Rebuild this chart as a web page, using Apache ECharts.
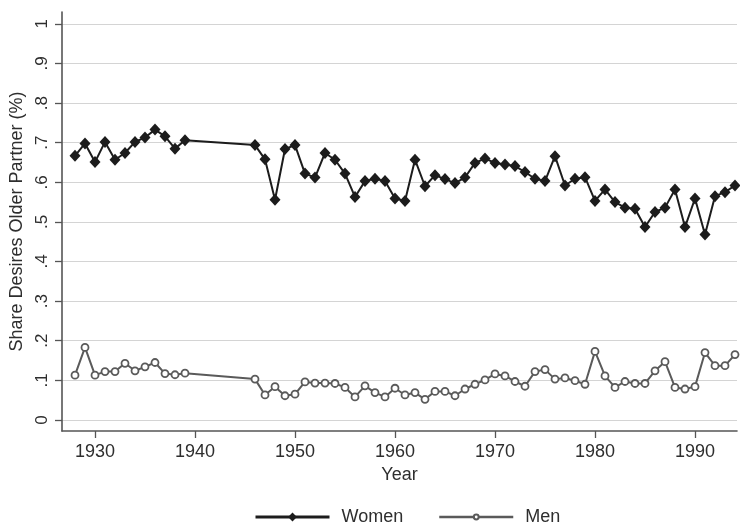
<!DOCTYPE html>
<html><head><meta charset="utf-8">
<script src="https://cdn.jsdelivr.net/npm/echarts@6/dist/echarts.min.js"></script>
<style>html,body{margin:0;padding:0;background:#fff}#c{width:740px;height:524px}</style>
</head><body><div id="c"></div>
<script>
const years = [1928,1929,1930,1931,1932,1933,1934,1935,1936,1937,1938,1939,
  1946,1947,1948,1949,1950,1951,1952,1953,1954,1955,1956,1957,1958,1959,
  1960,1961,1962,1963,1964,1965,1966,1967,1968,1969,1970,1971,1972,1973,
  1974,1975,1976,1977,1978,1979,1980,1981,1982,1983,1984,1985,1986,1987,
  1988,1989,1990,1991,1992,1993,1994];
const women = [0.667,0.698,0.651,0.702,0.657,0.674,0.702,0.713,0.733,0.716,0.685,0.706,
  0.694,0.658,0.556,0.684,0.694,0.622,0.612,0.674,0.657,0.622,0.563,0.603,0.609,0.603,
  0.559,0.553,0.657,0.590,0.618,0.608,0.598,0.612,0.649,0.660,0.649,0.645,0.641,0.626,
  0.609,0.603,0.666,0.592,0.609,0.613,0.553,0.582,0.550,0.536,0.533,0.487,0.525,0.536,
  0.582,0.487,0.559,0.468,0.565,0.575,0.592];
const men = [0.113,0.183,0.113,0.122,0.122,0.143,0.124,0.134,0.145,0.117,0.114,0.118,
  0.103,0.063,0.084,0.061,0.065,0.096,0.093,0.093,0.092,0.082,0.058,0.086,0.069,0.058,
  0.080,0.063,0.069,0.052,0.072,0.072,0.061,0.078,0.090,0.101,0.116,0.111,0.097,0.085,
  0.122,0.127,0.103,0.106,0.099,0.090,0.173,0.111,0.082,0.097,0.092,0.092,0.124,0.147,
  0.082,0.078,0.084,0.170,0.137,0.137,0.165];
const xTicks = [1930,1940,1950,1960,1970,1980,1990];
const yTicks = [0,0.1,0.2,0.3,0.4,0.5,0.6,0.7,0.8,0.9,1];

const font = 'Liberation Sans, Arial, sans-serif';
const txt = '#2e2e2e';
const chart = echarts.init(document.getElementById('c'), null, {renderer:'canvas'});
chart.setOption({
  animation: false,
  backgroundColor: '#fff',
  grid: {left: 62, right: 3, top: 12, bottom: 93, containLabel: false, outerBoundsMode: 'none'},
  xAxis: {
    type: 'value', min: 1926.7, max: 1994.2,
    name: 'Year', nameLocation: 'middle', nameGap: 33,
    nameTextStyle: {fontFamily: font, fontSize: 18, color: txt},
    axisLine: {show: true, onZero: false, lineStyle: {color: '#555', width: 1.6}},
    axisTick: {show: true, length: 7, customValues: xTicks, lineStyle: {color: '#555', width: 1.3}},
    axisLabel: {customValues: xTicks, fontFamily: font, fontSize: 18, color: txt, margin: 12,
      formatter: v => String(v)},
    splitLine: {show: false}
  },
  yAxis: {
    type: 'value', min: -0.028, max: 1.030,
    name: 'Share Desires Older Partner (%)', nameLocation: 'middle', nameGap: 22,
    nameTextStyle: {fontFamily: font, fontSize: 18, color: txt},
    axisLine: {show: true, onZero: false, lineStyle: {color: '#555', width: 1.6}},
    axisTick: {show: true, length: 7, customValues: yTicks, lineStyle: {color: '#555', width: 1.3}},
    axisLabel: {customValues: yTicks, rotate: 90, fontFamily: font, fontSize: 17, color: txt, margin: 11,
      formatter: v => { if (Math.abs(v) < 1e-9) return '0'; if (Math.abs(v-1) < 1e-9) return '1'; return '.' + Math.round(v*10); }},
    splitLine: {show: true, lineStyle: {color: '#d4d4d4', width: 1.2}}
  },
  legend: [
    {
      left: 249, top: 503, itemWidth: 74, itemHeight: 11,
      textStyle: {fontFamily: font, fontSize: 18, color: txt, padding: [0,0,0,7]},
      data: [{name: 'Women', lineStyle: {width: 3}}]
    },
    {
      left: 433, top: 503, itemWidth: 74, itemHeight: 6,
      textStyle: {fontFamily: font, fontSize: 18, color: txt, padding: [0,0,0,7]},
      data: [{name: 'Men', lineStyle: {width: 2.5}}]
    }
  ],
  series: [
    {
      name: 'Women', type: 'line',
      data: years.map((y, i) => [y, women[i]]),
      symbol: 'diamond', symbolSize: [11, 12],
      itemStyle: {color: '#1c1c1c'},
      lineStyle: {color: '#1c1c1c', width: 2}
    },
    {
      name: 'Men', type: 'line',
      data: years.map((y, i) => [y, men[i]]),
      symbol: 'circle', symbolSize: 7,
      itemStyle: {color: '#fff', borderColor: '#5a5a5a', borderWidth: 1.8},
      lineStyle: {color: '#5a5a5a', width: 2}
    }
  ]
});
</script>
</body></html>
